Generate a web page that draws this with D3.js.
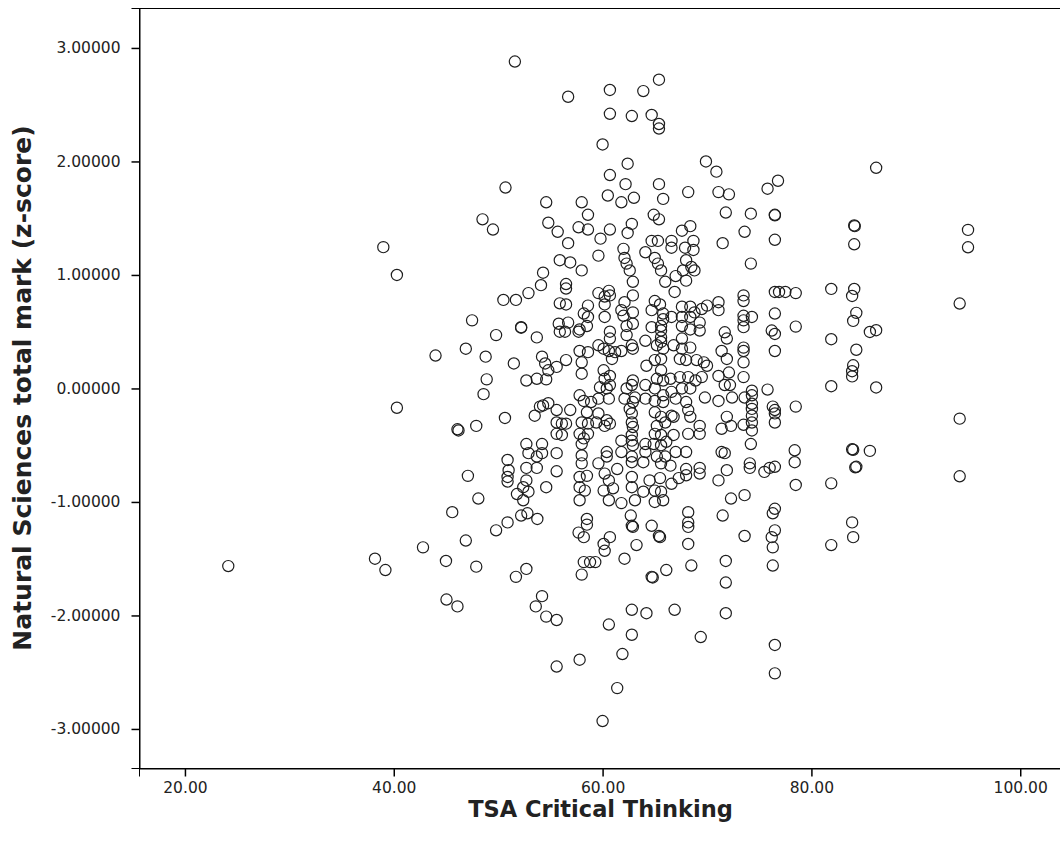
<!DOCTYPE html>
<html>
<head>
<meta charset="utf-8">
<script src="https://cdn.jsdelivr.net/npm/d3@7/dist/d3.min.js"></script>
<style>
  html, body { margin: 0; padding: 0; background: #fff; }
  svg { display: block; font-family: "DejaVu Sans", Verdana, sans-serif; }
</style>
</head>
<body>
<svg id="chart" width="1060" height="852"></svg>
<script>
// TSA Critical Thinking score vs. Natural Sciences total mark (z-score), one [x, y] pair per student
const observations = [
  [39.0,1.245],[40.3,1.00],[40.3,-0.17],[24.15,-1.565],[38.2,-1.50],[39.2,-1.60],[42.8,-1.40],
  [51.6,2.88],[50.7,1.77],[54.6,1.64],[48.5,1.49],[49.5,1.40],[54.8,1.46],[55.7,1.38],[55.9,1.13],[54.3,1.02],
  [54.1,0.91],[52.9,0.84],[51.7,0.78],[50.5,0.78],[55.9,0.75],[47.5,0.60],[52.2,0.54],[52.2,0.535],[49.8,0.47],
  [53.7,0.45],[55.9,0.50],[44.0,0.29],[46.9,0.35],[48.8,0.28],[51.5,0.22],[54.2,0.28],[54.5,0.22],[54.8,0.16],
  [55.6,0.19],[52.7,0.07],[53.7,0.085],[54.6,0.08],[48.9,0.08],[48.6,-0.05],[53.5,-0.24],[54.0,-0.16],[54.3,-0.15],
  [54.8,-0.13],[55.6,-0.19],[50.65,-0.26],[46.1,-0.36],[46.2,-0.37],[47.9,-0.33],[55.6,-0.40],[52.7,-0.49],
  [54.2,-0.49],[52.9,-0.57],[53.7,-0.60],[54.2,-0.57],[55.6,-0.57],[50.9,-0.63],[51.0,-0.72],[50.9,-0.78],
  [50.9,-0.82],[52.7,-0.70],[53.7,-0.70],[47.1,-0.77],[55.6,-0.73],[52.7,-0.81],[52.4,-0.87],[52.9,-0.91],
  [51.8,-0.93],[54.6,-0.87],[48.1,-0.97],[52.4,-0.985],
  [45.6,-1.09],[52.2,-1.12],[52.8,-1.10],[53.75,-1.15],[50.9,-1.18],[49.8,-1.25],[46.9,-1.34],[45.0,-1.52],
  [47.9,-1.57],[52.7,-1.59],[51.7,-1.66],[54.2,-1.83],[53.6,-1.92],[54.6,-2.01],[55.6,-2.04],[45.05,-1.86],
  [46.1,-1.92],[55.6,-2.45],
  [56.7,2.57],[60.7,2.63],[63.9,2.62],[65.4,2.72],[60.7,2.42],[62.8,2.40],[64.7,2.41],[65.4,2.33],[65.4,2.29],
  [60.0,2.15],[62.4,1.98],[60.7,1.88],[62.2,1.80],[65.4,1.80],[68.2,1.73],[60.5,1.70],[61.8,1.64],[63.0,1.68],
  [65.8,1.67],[58.0,1.64],[64.9,1.53],[65.4,1.49],[58.6,1.53],[62.8,1.45],[62.4,1.37],[60.7,1.40],[59.8,1.32],
  [58.6,1.40],[57.7,1.42],[56.7,1.28],[56.9,1.11],[58.0,1.04],[59.6,1.17],[62.0,1.23],[62.1,1.15],[62.3,1.10],
  [62.6,1.04],[64.1,1.20],[64.7,1.30],[65.3,1.30],[66.6,1.30],[67.6,1.39],[68.4,1.43],[65.0,1.15],[65.3,1.10],
  [65.6,1.04],[66.6,1.24],[67.9,1.24],[68.0,1.13],[67.7,1.04],
  [69.9,2.00],[70.9,1.91],[71.1,1.73],[72.1,1.71],[75.8,1.76],[76.8,1.83],[71.8,1.55],[74.2,1.54],[76.5,1.53],
  [76.5,1.525],[73.6,1.38],[71.5,1.28],[76.5,1.31],[68.7,1.30],[68.7,1.22],[74.2,1.10],[68.5,1.07],[68.8,1.04],
  [67.0,0.99],[56.5,0.92],[56.5,0.88],[62.9,0.94],[66.0,0.94],[66.9,0.85],[68.0,0.95],[59.6,0.84],[60.6,0.86],
  [60.7,0.82],[60.2,0.81],[62.9,0.82],[56.5,0.74],[58.6,0.73],[60.2,0.74],[62.1,0.76],[65.0,0.77],[65.5,0.74],
  [67.6,0.72],[68.4,0.72],[58.2,0.66],[58.6,0.63],[60.2,0.63],[61.8,0.69],[62.0,0.64],[62.9,0.67],[64.7,0.69],
  [65.8,0.66],[65.8,0.61],[66.6,0.63],[67.6,0.63],[68.4,0.63],[55.8,0.57],[56.7,0.58],[56.4,0.50],[57.8,0.52],
  [57.7,0.50],[58.5,0.55],[62.3,0.55],[62.9,0.57],[64.7,0.54],[65.6,0.55],[65.6,0.51],[67.6,0.55],[68.4,0.52],
  [60.7,0.50],[60.7,0.44],[62.3,0.47],[64.1,0.42],[65.6,0.45],[65.6,0.41],[67.6,0.44],[59.6,0.38],[60.1,0.35],
  [60.6,0.33],[61.2,0.32],[61.8,0.33],[62.8,0.38],[62.9,0.35],[57.8,0.33],[58.6,0.32],[65.2,0.38],[65.8,0.35],
  [66.8,0.38],[67.6,0.35],[68.4,0.36],[56.5,0.25],[58.0,0.23],[60.9,0.26],[64.2,0.20],[65.0,0.25],[65.6,0.26],
  [67.4,0.26],[68.0,0.25],[58.0,0.13],[60.1,0.16],[60.2,0.085],[60.7,0.11],[62.9,0.07],[62.8,0.03],[65.6,0.16],
  [65.2,0.085],[65.8,0.07],[66.5,0.085],[67.4,0.10],[68.2,0.10],[64.1,0.03],[59.75,0.01],[60.4,0.00],[60.7,0.03],
  [62.3,0.00],[65.0,0.00],[65.8,-0.06],[66.6,-0.03],[67.6,0.00],[68.4,0.00],[57.8,-0.06],[58.2,-0.11],[58.9,-0.12],
  [59.6,-0.09],[60.6,-0.09],[62.1,-0.09],[63.1,-0.08],[62.9,-0.12],[64.1,-0.09],[65.0,-0.11],[65.8,-0.12],
  [67.0,-0.09],[68.0,-0.12],[56.9,-0.19],[58.5,-0.21],[59.6,-0.22],[62.6,-0.18],[62.8,-0.22],[65.0,-0.21],
  [65.6,-0.25],[66.6,-0.24],[68.2,-0.19],[68.4,-0.25],[55.6,-0.30],[56.1,-0.31],[56.5,-0.31],[58.0,-0.30],
  [58.6,-0.31],[59.4,-0.30],[60.4,-0.28],[60.2,-0.33],[60.7,-0.31],[62.8,-0.30],[62.9,-0.34],[65.2,-0.33],
  [66.0,-0.30],[66.8,-0.25],[56.1,-0.41],[57.8,-0.40],[58.2,-0.44],[58.6,-0.40],[62.8,-0.41],[65.0,-0.40],
  [65.6,-0.41],[66.8,-0.41],[68.2,-0.40],[58.0,-0.49],[61.8,-0.46],[62.8,-0.46],[62.9,-0.50],[64.1,-0.49],
  [64.9,-0.49],[65.6,-0.50],[66.1,-0.47],[58.0,-0.59],[60.4,-0.56],[60.4,-0.60],[61.8,-0.56],[62.8,-0.60],
  [64.1,-0.56],[65.2,-0.60],[66.0,-0.60],[67.0,-0.56],[68.0,-0.56],[58.0,-0.66],[59.6,-0.66],[61.4,-0.71],
  [62.8,-0.65],[63.9,-0.65],[65.6,-0.66],[66.5,-0.68],[68.0,-0.71],[57.8,-0.78],[58.5,-0.77],[60.2,-0.75],
  [60.6,-0.81],[62.8,-0.78],[64.5,-0.81],[65.5,-0.79],[66.6,-0.84],[67.3,-0.79],[68.0,-0.765],[57.8,-0.87],
  [58.3,-0.90],[60.1,-0.90],[61.0,-0.88],[62.8,-0.87],[63.9,-0.91],[65.0,-0.90],[65.6,-0.91],[57.8,-0.985],
  [60.6,-0.985],[61.8,-1.01],[63.1,-0.985],[65.0,-1.00],[65.8,-0.985],
  [62.7,-1.12],[58.5,-1.15],[58.5,-1.20],[57.7,-1.27],[58.2,-1.31],[60.7,-1.31],[60.1,-1.37],[60.2,-1.43],
  [62.8,-1.21],[62.9,-1.22],[64.7,-1.21],[65.4,-1.30],[65.5,-1.31],[63.25,-1.38],[62.1,-1.50],[58.2,-1.53],
  [58.8,-1.53],[59.3,-1.53],[58.0,-1.64],[64.7,-1.66],[64.8,-1.665],[66.1,-1.60],[68.2,-1.09],[68.2,-1.18],
  [68.2,-1.22],[68.2,-1.37],[68.5,-1.56],[62.8,-1.95],[64.2,-1.98],[66.9,-1.95],[60.6,-2.08],[62.8,-2.17],
  [61.9,-2.34],[57.8,-2.39],[61.4,-2.64],[60.0,-2.93],
  [73.5,0.82],[73.5,0.77],[76.5,0.85],[76.9,0.85],[77.5,0.85],[78.5,0.84],[71.1,0.76],[71.1,0.69],[70.0,0.73],
  [69.5,0.70],[68.8,0.67],[73.5,0.64],[73.5,0.60],[74.3,0.63],[73.5,0.54],[76.5,0.66],[78.5,0.545],[76.2,0.51],
  [76.5,0.48],[69.3,0.58],[69.3,0.51],[71.7,0.495],[71.9,0.44],[73.5,0.36],[73.5,0.33],[76.5,0.33],[71.4,0.33],
  [71.9,0.26],[73.5,0.23],[69.0,0.25],[69.7,0.23],[70.0,0.20],[69.5,0.10],[68.9,0.07],[71.1,0.11],[72.1,0.14],
  [73.5,0.10],[71.7,0.03],[72.2,0.03],[74.3,-0.02],[74.3,-0.06],[73.6,-0.08],[75.8,-0.01],[69.8,-0.08],
  [71.1,-0.11],[72.4,-0.08],[74.3,-0.135],[74.3,-0.18],[76.3,-0.16],[76.5,-0.19],[76.5,-0.22],[78.5,-0.16],
  [76.5,-0.30],[71.9,-0.25],[74.3,-0.24],[74.3,-0.30],[73.5,-0.32],[74.3,-0.37],[71.4,-0.355],[72.3,-0.33],
  [69.3,-0.33],[69.3,-0.40],[74.2,-0.49],[71.4,-0.56],[71.7,-0.57],[78.4,-0.545],[78.4,-0.65],[74.1,-0.66],
  [74.1,-0.70],[69.3,-0.70],[69.3,-0.75],[71.9,-0.72],[71.1,-0.81],[75.5,-0.735],[76.0,-0.70],[76.5,-0.69],
  [78.5,-0.85],[72.3,-0.97],[73.6,-0.94],
  [71.5,-1.12],[76.5,-1.06],[76.3,-1.10],[73.6,-1.30],[76.5,-1.25],[76.2,-1.31],[76.3,-1.40],[71.8,-1.52],
  [76.3,-1.56],[71.8,-1.71],[71.8,-1.98],[69.4,-2.19],[76.5,-2.26],[76.5,-2.51],
  [86.2,1.944],[84.1,1.436],[84.15,1.43],[84.1,1.27],[95.0,1.397],[95.0,1.244],[81.9,0.877],[84.1,0.877],
  [83.9,0.815],[94.2,0.748],[84.3,0.666],[84.0,0.595],[85.6,0.498],[86.2,0.513],[81.9,0.434],[84.3,0.341],
  [84.0,0.204],[83.9,0.152],[83.9,0.106],[81.9,0.02],[86.2,0.009],[94.2,-0.266],[83.9,-0.536],[84.0,-0.54],
  [85.6,-0.55],[84.2,-0.695],[84.3,-0.69],[94.2,-0.774],[81.9,-0.836],[83.9,-1.18],[84.0,-1.31],[81.9,-1.38]
];

const xTickValues = [20, 40, 60, 80, 100];
const yTickValues = [-3, -2, -1, 0, 1, 2, 3];
const xDomain = [15.6, 104.0];
const yDomain = [-3.344, 3.352];

const xLabel = "TSA Critical Thinking";
const yLabel = "Natural Sciences total mark (z-score)";

const svg = d3.select("#chart");
const plot = { left: 139, right: 1062, top: 8, bottom: 768 };

const x = d3.scaleLinear().domain(xDomain).range([plot.left, plot.right]);
const y = d3.scaleLinear().domain(yDomain).range([plot.bottom, plot.top]);

// plot frame
svg.append("rect")
  .attr("x", plot.left + 0.5)
  .attr("y", plot.top + 0.5)
  .attr("width", plot.right - plot.left)
  .attr("height", plot.bottom - plot.top)
  .attr("fill", "none")
  .attr("stroke", "#000")
  .attr("stroke-width", 1);

// markers
svg.append("g")
  .selectAll("circle")
  .data(observations)
  .join("circle")
  .attr("cx", d => x(d[0]))
  .attr("cy", d => y(d[1]))
  .attr("r", 5.6)
  .attr("fill", "none")
  .attr("stroke", "#1e1e1e")
  .attr("stroke-width", 1.2);

// axes
const xAxis = svg.append("g")
  .attr("transform", `translate(0,${plot.bottom + 0.5})`)
  .call(d3.axisBottom(x).tickValues(xTickValues).tickFormat(v => v.toFixed(2))
    .tickSizeOuter(0).tickSize(8).tickPadding(5));

const yAxis = svg.append("g")
  .attr("transform", `translate(${plot.left + 0.5},0)`)
  .call(d3.axisLeft(y).tickValues(yTickValues).tickFormat(v => v.toFixed(5))
    .tickSizeOuter(0).tickSize(8).tickPadding(11));

[xAxis, yAxis].forEach(g => {
  g.select(".domain").attr("stroke", "#000");
  g.selectAll(".tick line").attr("stroke", "#000").attr("stroke-width", 1.5);
  g.selectAll(".tick text")
    .attr("fill", "#222")
    .style("font-family", "'DejaVu Sans', Verdana, sans-serif")
    .style("font-size", "15.5px");
});

// axis titles
svg.append("text")
  .attr("x", (plot.left + plot.right) / 2)
  .attr("y", 817)
  .attr("text-anchor", "middle")
  .style("font-weight", "bold")
  .style("font-size", "22.5px")
  .attr("fill", "#222")
  .text(xLabel);

svg.append("text")
  .attr("transform", `translate(31,${(plot.top + plot.bottom) / 2}) rotate(-90)`)
  .attr("text-anchor", "middle")
  .style("font-weight", "bold")
  .style("font-size", "25px")
  .attr("fill", "#222")
  .text(yLabel);
</script>
</body>
</html>
